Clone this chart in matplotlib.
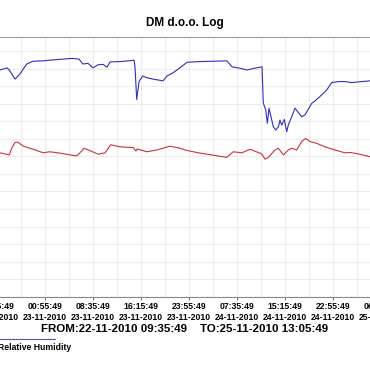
import datetime
import matplotlib
matplotlib.use("Agg")
import matplotlib.pyplot as plt
import matplotlib.dates as mdates
from matplotlib.lines import Line2D
import pandas as pd

plt.rcParams["font.family"] = ["Liberation Sans", "DejaVu Sans"]

TITLE = "DM d.o.o. Log"
START = datetime.datetime(2010, 11, 22, 9, 35, 49)
END = datetime.datetime(2010, 11, 25, 13, 5, 49)
TICK_STEP_MIN = 460

# hours since START, value
hum_hours = [0.0, 4.0, 8.15, 9.26, 9.63, 10.54, 11.34, 12.41, 13.42, 15.01, 16.13,
             18.21, 19.65, 20.76, 21.40, 22.20, 23.00, 23.80, 24.60, 25.24, 25.72,
             27.32, 28.59, 29.55, 29.71, 29.98, 30.35, 30.94, 31.58, 32.59, 34.19,
             34.82, 35.78, 36.58, 38.02, 40.09, 42.17, 44.40, 45.20, 46.48, 47.60,
             48.56, 50.00, 50.20, 50.59, 50.84, 51.11, 51.43, 51.80, 52.18, 52.60,
             52.87, 53.14, 53.56, 53.94, 54.19, 54.74, 55.26, 55.70, 56.33, 56.86,
             57.93, 58.46, 59.53, 60.33, 61.12, 62.18, 63.25, 64.32, 65.92, 67.24,
             75.5]
hum_values = [64.8, 64.9, 64.6, 65.2, 64.6, 62.0, 63.5, 66.3, 67.1, 67.2, 67.4,
              67.7, 67.9, 67.7, 66.3, 66.5, 65.2, 66.1, 66.2, 65.4, 66.9,
              67.0, 67.2, 67.4, 65.5, 56.2, 61.3, 62.9, 62.4, 62.0, 61.5,
              62.9, 63.8, 64.8, 66.8, 67.0, 67.1, 67.2, 65.5, 65.1, 64.6,
              65.0, 65.5, 55.2, 53.2, 49.4, 53.7, 51.3, 48.4, 47.5, 48.4,
              50.3, 48.9, 50.5, 47.0, 48.9, 51.3, 53.7, 52.7, 51.3, 51.8,
              55.1, 55.8, 57.5, 58.9, 61.0, 61.3, 61.3, 61.0, 61.3, 61.5,
              61.7]

temp_hours = [0.0, 4.0, 8.15, 9.63, 10.01, 10.54, 10.91, 11.87, 13.46, 15.06, 16.13,
              17.73, 20.39, 20.92, 21.56, 22.52, 23.85, 24.92, 25.83, 27.31, 29.44,
              29.87, 30.07, 31.58, 33.17, 35.30, 36.90, 37.70, 39.82, 41.96, 44.35,
              45.41, 46.75, 48.08, 49.95, 50.47, 51.00, 52.07, 52.60, 53.40, 54.19,
              54.74, 55.53, 56.33, 56.97, 57.66, 58.73, 60.06, 61.66, 63.25, 64.05,
              65.37, 67.24, 75.5]
temp_values = [41.2, 41.5, 41.0, 40.4, 42.3, 43.9, 44.1, 42.9, 42.0, 41.0, 41.3,
               40.9, 40.1, 41.0, 42.3, 41.6, 40.6, 41.0, 43.3, 42.7, 42.5,
               41.5, 42.1, 41.3, 41.8, 42.9, 42.3, 41.8, 41.0, 40.4, 39.7,
               41.3, 41.0, 42.0, 40.7, 39.2, 39.7, 41.8, 42.3, 40.4, 41.8,
               42.3, 41.8, 44.2, 45.1, 44.2, 43.7, 42.7, 41.8, 41.0, 41.1,
               40.7, 39.9, 39.5]

hum_t = [START + datetime.timedelta(hours=h) for h in hum_hours]
temp_t = [START + datetime.timedelta(hours=h) for h in temp_hours]

fig = plt.figure(figsize=(3.7, 3.7), dpi=100)
# plot area is wider than the picture: it runs off both sides
ax = fig.add_axes([-51 / 370, 73.3 / 370, 472.7 / 370, 259.7 / 370])

ax.plot(hum_t, hum_values, color="#2f2fb8", lw=0.8)
ax.plot(temp_t, temp_values, color="#cc2f3f", lw=0.8)

ax.set_xlim(START, END)
ax.set_ylim(0, 74)

major = [START + datetime.timedelta(minutes=TICK_STEP_MIN * k) for k in range(0, 11)]
minor = [START + datetime.timedelta(minutes=TICK_STEP_MIN / 2 * k) for k in range(0, 21)]
ax.xaxis.set_major_locator(matplotlib.ticker.FixedLocator(mdates.date2num(major)))
ax.xaxis.set_minor_locator(matplotlib.ticker.FixedLocator(mdates.date2num(minor)))
ax.xaxis.set_major_formatter(mdates.DateFormatter("%H:%M:%S\n%d-%m-%Y"))
ax.yaxis.set_major_locator(matplotlib.ticker.MultipleLocator(5))

ax.grid(True, which="both", axis="x", color="#ececec", lw=0.8)
ax.grid(True, which="major", axis="y", color="#ececec", lw=0.8)
ax.set_axisbelow(True)

ax.tick_params(axis="x", which="major", length=2.5, width=0.6, color="#555555",
               labelsize=6.2, pad=1)
ax.tick_params(axis="x", which="minor", length=0)
ax.tick_params(axis="y", length=0, labelleft=False)
for lab in ax.get_xticklabels():
    lab.set_fontweight("bold")
    lab.set_linespacing(1.3)

for side in ["left", "right"]:
    ax.spines[side].set_visible(False)
ax.spines["top"].set_color("#999999")
ax.spines["bottom"].set_color("#888888")
ax.spines["top"].set_linewidth(0.8)
ax.spines["bottom"].set_linewidth(0.8)

fig.text(0.5, 1 - 23.3 / 370, TITLE, ha="center", va="center",
         fontsize=8.5, fontweight="bold")
fig.text(0.5, 1 - 329.5 / 370,
         "FROM:22-11-2010 09:35:49    TO:25-11-2010 13:05:49",
         ha="center", va="center", fontsize=8.25, fontweight="bold")

fig.add_artist(Line2D([-0.01, 55 / 370], [1 - 339 / 370, 1 - 339 / 370],
                      color="#5050b0", lw=0.8, transform=fig.transFigure))
fig.text(-2 / 370, 1 - 348 / 370, "Relative Humidity", ha="left", va="center",
         fontsize=6.2, fontweight="bold")

fig.savefig("out.png", dpi=100)
